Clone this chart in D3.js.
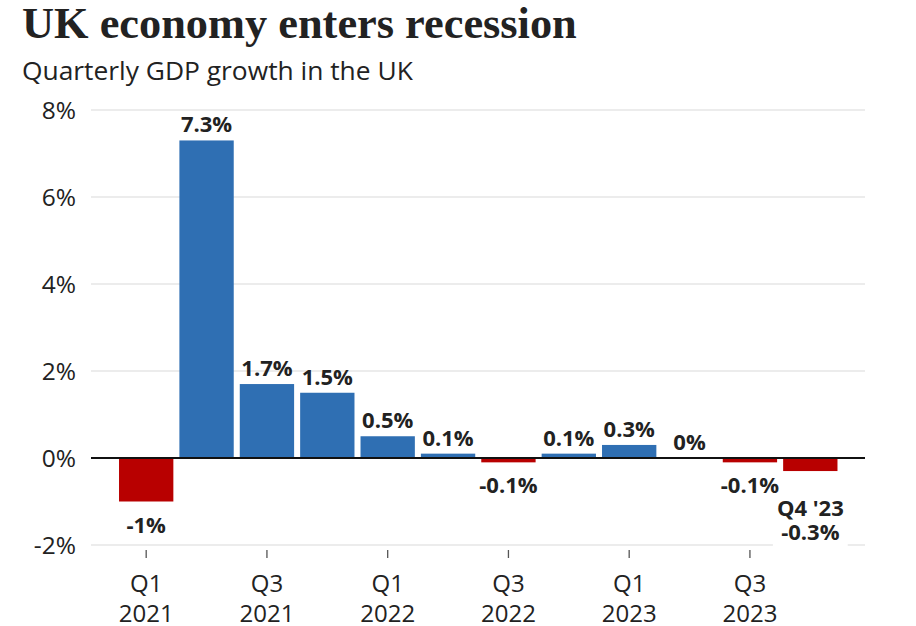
<!DOCTYPE html>
<html><head><meta charset="utf-8">
<script src="https://cdn.jsdelivr.net/npm/d3@7"></script>
<style>
body{margin:0;background:#fff;}
svg{display:block;}
text{font-family:"Open Sans","Noto Sans",sans-serif;fill:#222;}
</style></head>
<body>
<svg id="c" width="916" height="626"></svg>
<script>
const quarters = ["Q1 2021","Q2 2021","Q3 2021","Q4 2021","Q1 2022","Q2 2022","Q3 2022","Q4 2022","Q1 2023","Q2 2023","Q3 2023","Q4 2023"];
const growth = [-1, 7.3, 1.7, 1.5, 0.5, 0.1, -0.1, 0.1, 0.3, 0, -0.1, -0.3];
const valueLabels = ["-1%","7.3%","1.7%","1.5%","0.5%","0.1%","-0.1%","0.1%","0.3%","0%","-0.1%","-0.3%"];
const yTicks = [-2, 0, 2, 4, 6, 8];
const xTickQuarters = ["Q1 2021","Q3 2021","Q1 2022","Q3 2022","Q1 2023","Q3 2023"];
const xTickLines = [["Q1","2021"],["Q3","2021"],["Q1","2022"],["Q3","2022"],["Q1","2023"],["Q3","2023"]];
const title = "UK economy enters recession";
const subtitle = "Quarterly GDP growth in the UK";
const lastLabelPrefix = "Q4 '23";

const svg = d3.select("#c");
const blue = "#2f6fb3", red = "#b80000";

const x = d3.scaleBand().domain(quarters).range([116, 840.5]).paddingInner(0.1).paddingOuter(0.05);
const y = d3.scaleLinear().domain([-2, 8]).range([545, 110]);
const gridX0 = 91, gridX1 = 865;

// title
const t = svg.append("text").attr("x", 22).attr("y", 38)
  .style("font-family", "'Liberation Serif','DejaVu Serif',serif").style("font-weight", "bold")
  .style("font-size", "38px").text(title);
function fit(sel, w){ const l = sel.node().getComputedTextLength(); const fs = parseFloat(sel.style("font-size")); sel.style("font-size", (fs*w/l)+"px"); }
fit(t, 555);
const st = svg.append("text").attr("x", 22).attr("y", 80).style("font-size", "25px").text(subtitle);
fit(st, 391);

// gridlines
svg.append("g").selectAll("line").data(yTicks.filter(d => d !== 0)).join("line")
  .attr("x1", gridX0).attr("x2", gridX1).attr("y1", d => y(d)).attr("y2", d => y(d))
  .attr("stroke", "#d9d9d9").attr("stroke-width", 1.2);

// y labels
svg.append("g").selectAll("text").data(yTicks).join("text")
  .attr("x", 76).attr("y", d => y(d) + 9).attr("text-anchor", "end")
  .style("font-size", "24.5px").text(d => d + "%");

// bars
svg.append("g").selectAll("rect").data(growth).join("rect")
  .attr("x", (d, i) => x(quarters[i])).attr("width", x.bandwidth())
  .attr("y", d => y(Math.max(0, d))).attr("height", d => Math.abs(y(d) - y(0)))
  .attr("fill", d => d < 0 ? red : blue);

// zero line
svg.append("line").attr("x1", gridX0).attr("x2", gridX1).attr("y1", y(0)).attr("y2", y(0))
  .attr("stroke", "#111").attr("stroke-width", 2.2);

// value labels
const last = growth.length - 1;
const bgLayer = svg.append("g");
const vl = svg.append("g");
growth.forEach((d, i) => {
  const cx = x(quarters[i]) + x.bandwidth() / 2;
  if (i === last) {
    const bg = bgLayer.append("rect").attr("fill", "#fff");
    const tx = vl.append("text").attr("text-anchor", "middle").style("font-size", "22px").style("font-weight", "bold");
    tx.append("tspan").attr("x", cx).attr("y", y(d) + 45).text(lastLabelPrefix);
    tx.append("tspan").attr("x", cx).attr("y", y(d) + 69).text(valueLabels[i]);
    const bb = tx.node().getBBox();
    bg.attr("x", bb.x - 4).attr("y", bb.y).attr("width", bb.width + 8).attr("height", bb.height + 4);
  } else {
    vl.append("text").attr("x", cx)
      .attr("y", d < 0 ? y(d) + 31 : y(d) - 8)
      .attr("text-anchor", "middle").style("font-size", "22px").style("font-weight", "bold")
      .text(valueLabels[i]);
  }
});

// x ticks
const xt = svg.append("g").selectAll("g").data(xTickQuarters).join("g")
  .attr("transform", d => `translate(${x(d) + x.bandwidth() / 2},0)`);
xt.append("line").attr("y1", 550).attr("y2", 558).attr("stroke", "#555").attr("stroke-width", 1.3);
xt.append("text").attr("text-anchor", "middle").style("font-size", "24px")
  .selectAll("tspan").data((d, i) => xTickLines[i]).join("tspan")
  .attr("x", 0).attr("y", (d, j) => 592 + j * 30).text(d => d);
</script>
</body></html>
